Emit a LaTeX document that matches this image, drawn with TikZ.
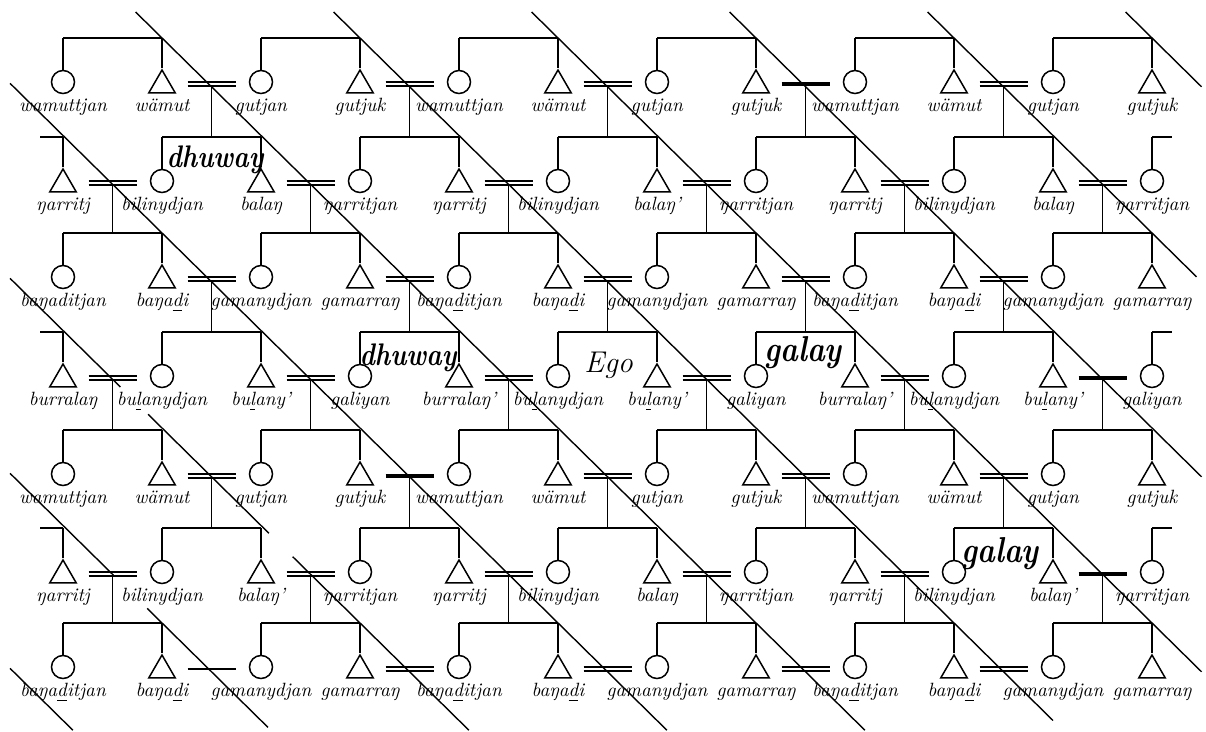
\documentclass[tikz,border=0pt]{standalone}
\usetikzlibrary{shapes.geometric}
\tikzset{
  ln/.style={line width=0.75pt},
  fem/.style={circle, draw, line width=0.75pt, minimum size=11.5pt, inner sep=0pt},
  mal/.style={regular polygon, regular polygon sides=3, draw, line width=0.75pt, minimum size=15.3pt, inner sep=0pt},
  marr/.style={minimum width=24pt, minimum height=2pt, inner sep=0pt, outer sep=0pt},
  lab/.style={font=\fontsize{9.6}{11}\selectfont\itshape, anchor=base, inner sep=0pt},
  big/.style={font=\fontsize{13}{15}\selectfont\bfseries\itshape, anchor=base, inner sep=0pt},
  diag/.style={line width=0.7pt},
}
\newif\ifthk
\begin{document}
\begin{tikzpicture}[x=0.5pt,y=-0.5pt]
\useasboundingbox[fill=white] (0,0) rectangle (1206,732);

% persons
\foreach \r/\by in {1/38,2/137,3/233,4/332,5/430,6/528,7/623}{
  \foreach \j in {0,...,11}{
    \pgfmathsetmacro\px{63+99*\j}
    \pgfmathtruncatemacro\sx{mod(\r+\j,2)}
    \coordinate (t-\r-\j) at (\px,\by);
    \ifnum\sx=1
      \node[fem] (s-\r-\j) at (\px,\by+44) {};
    \else
      \node[mal] (s-\r-\j) at (\px,\by+47.3) {};
    \fi
    \draw[ln] (t-\r-\j) -- (s-\r-\j.north);
  }
}

% sibling bars
\foreach \r in {1,3,5,7}{
  \foreach \j in {0,2,...,10}{
    \pgfmathtruncatemacro\k{\j+1}
    \draw[ln] (t-\r-\j) -- (t-\r-\k);
  }
}
\foreach \r in {2,4,6}{
  \foreach \j in {1,3,...,9}{
    \pgfmathtruncatemacro\k{\j+1}
    \draw[ln] (t-\r-\j) -- (t-\r-\k);
  }
  \coordinate (pl-\r) at ([xshift=-11.5pt]t-\r-0);
  \coordinate (pr-\r) at ([xshift=10pt]t-\r-11);
  \draw[ln] (pl-\r) -- (t-\r-0);
  \draw[ln] (t-\r-11) -- (pr-\r);
}

% marriages
\foreach \r/\by/\js in {1/38/{1,3,5,7,9},2/137/{0,2,4,6,8,10},3/233/{1,3,5,7,9},4/332/{0,2,4,6,8,10},5/430/{1,3,5,7,9},6/528/{0,2,4,6,8,10},7/623/{1,3,5,7,9}}{
  \foreach \j in \js {
    \pgfmathsetmacro\mx{112.5+99*\j}
    \pgfmathtruncatemacro\code{\r*100+\j}
    \node[marr] (m-\r-\j) at (\mx,\by+46) {};
    \thkfalse
    \ifnum\code=107 \thktrue\fi
    \ifnum\code=410 \thktrue\fi
    \ifnum\code=503 \thktrue\fi
    \ifnum\code=610 \thktrue\fi
    \ifthk
      \draw[line width=2.4pt] (m-\r-\j.west) -- (m-\r-\j.east);
    \else
      \ifnum\code=701
        \draw[line width=1.3pt] (m-\r-\j.west) -- (m-\r-\j.east);
      \else
        \draw[line width=0.9pt] (m-\r-\j.north west) -- (m-\r-\j.north east);
        \draw[line width=0.7pt] (m-\r-\j.south west) -- (m-\r-\j.south east);
      \fi
    \fi
    \ifnum\r<7
      \pgfmathtruncatemacro\rr{\r+1}
      \draw[ln] (m-\r-\j.south) -- (m-\r-\j.south |- t-\rr-\j);
    \fi
  }
}

% labels
\foreach \r/\by/\names in {
 1/38/{wamuttjan,wämut,gutjan,gutjuk,wamuttjan,wämut,gutjan,gutjuk,wamuttjan,wämut,gutjan,gutjuk},
 2/137/{ŋarritj,bilinydjan,balaŋ,ŋarritjan,ŋarritj,bilinydjan,balaŋ',ŋarritjan,ŋarritj,bilinydjan,balaŋ,ŋarritjan},
 3/233/{baŋaditjan,baŋa\underline{d}i,gamanydjan,gamarraŋ,baŋa\underline{d}itjan,baŋa\underline{d}i,gamanydjan,gamarraŋ,baŋa\underline{d}itjan,baŋa\underline{d}i,gamanydjan,gamarraŋ},
 4/332/{burralaŋ,bu\underline{l}anydjan,bu\underline{l}any',galiyan,burralaŋ',bu\underline{l}anydjan,bu\underline{l}any',galiyan,burralaŋ',bu\underline{l}anydjan,bu\underline{l}any',galiyan},
 5/430/{wamuttjan,wämut,gutjan,gutjuk,wamuttjan,wämut,gutjan,gutjuk,wamuttjan,wämut,gutjan,gutjuk},
 6/528/{ŋarritj,bilinydjan,balaŋ',ŋarritjan,ŋarritj,bilinydjan,balaŋ,ŋarritjan,ŋarritj,bilinydjan,balaŋ',ŋarritjan},
 7/623/{baŋa\underline{d}itjan,baŋa\underline{d}i,gamanydjan,gamarraŋ,baŋa\underline{d}itjan,baŋa\underline{d}i,gamanydjan,gamarraŋ,baŋa\underline{d}itjan,baŋa\underline{d}i,gamanydjan,gamarraŋ}}{
  \foreach \t [count=\c from 0] in \names {
    \pgfmathsetmacro\px{63+99*\c}
    \node[lab] (l-\r-\c) at (\px,\by+74) {\t};
  }
}

% diagonal lines
\foreach \n/\ta/\tb in {-4/6.465/7.1, -3/4.465/5.51, -3/5.85/7.07, -2/2.465/3.58, -2/3.86/5.08, -2/5.32/7.1, -1/0.465/7.1, 0/-0.267/7.1, 1/-0.267/7.0, 2/-0.267/6.5, 3/-0.267/4.5, 4/-0.267/2.45, 5/-0.267/0.5}{
  \draw[diag] ({63+99*(2*(\n)+1+(\ta))},{38+97.5*(\ta)}) -- ({63+99*(2*(\n)+1+(\tb))},{38+97.5*(\tb)});
}

% moiety names and Ego
\node[big] (dh1) at (215,168) {\scalebox{1}[1.2]{dhuway}};
\node[big] (dh2) at (408,366) {\scalebox{1}[1.2]{dhuway}};
\node[big, font=\fontsize{15}{17}\selectfont\bfseries\itshape] (ga1) at (803,362) {\scalebox{1}[1.2]{galay}};
\node[big, font=\fontsize{15}{17}\selectfont\bfseries\itshape] (ga2) at (1000,563) {\scalebox{1}[1.2]{galay}};
\node[font=\fontsize{15}{17}\selectfont\itshape, anchor=base west, inner sep=0pt] (ego) at (584,373) {Ego};
\end{tikzpicture}
\end{document}
